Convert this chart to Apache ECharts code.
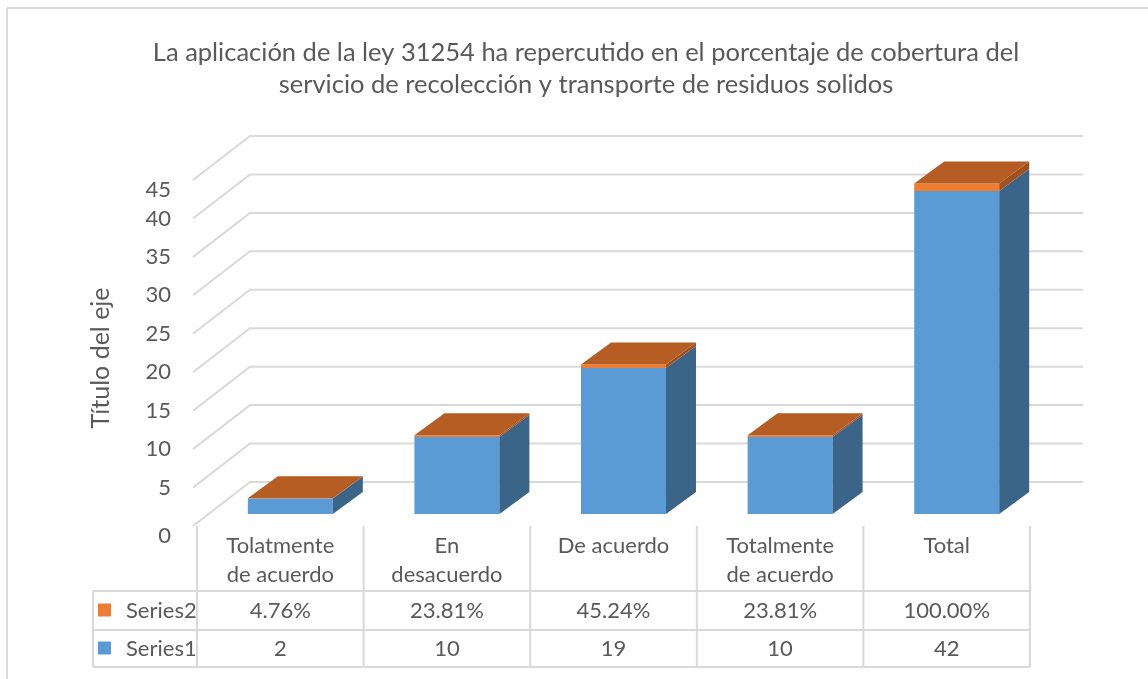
<!DOCTYPE html>
<html>
<head>
<meta charset="utf-8">
<script src="https://cdn.jsdelivr.net/npm/echarts@6/dist/echarts.min.js"></script>
<style>
  html, body { margin: 0; padding: 0; background: #fff; }
  #chart { width: 1148px; height: 679px; }
</style>
</head>
<body>
<div id="chart"></div>
<script>
const categories = ['Tolatmente\nde acuerdo', 'En\ndesacuerdo', 'De acuerdo', 'Totalmente\nde acuerdo', 'Total']
const series1 = [2, 10, 19, 10, 42]
const series2 = [0.0476, 0.2381, 0.4524, 0.2381, 1.0]
const yTicks = [0, 5, 10, 15, 20, 25, 30, 35, 40, 45]
const seriesNames = ['Series2', 'Series1']

const FONT = 'Lato, "Liberation Sans", sans-serif'
const TEXT = '#595959'
const GRID_LINE = '#D9D9D9'

// 3D look, all in px
const WALL_DX = 57, WALL_DY = -44
const BAR_DX = 10, BAR_DY = -12
const DEPTH_DX = 30, DEPTH_DY = -22

const chart = echarts.init(document.getElementById('chart'))

function wallItem(params, api) {
  const cs = params.coordSys
  const y = api.coord([0, api.value(1)])[1]
  return {
    type: 'polyline',
    shape: {
      points: [
        [cs.x - 4, y],
        [cs.x + WALL_DX - 4, y + WALL_DY],
        [cs.x + cs.width + WALL_DX - 4, y + WALL_DY]
      ]
    },
    style: { stroke: GRID_LINE, lineWidth: 2, fill: null }
  }
}

function barItem(params, api) {
  const i = api.value(0)
  const v1 = api.value(1)
  const v2 = api.value(2)
  const base = api.coord([i, 0])
  const w = api.size([1, 0])[0] * 0.51
  const x0 = base[0] + BAR_DX - w / 2
  const x1 = x0 + w
  const y0 = base[1] + BAR_DY
  const y1 = api.coord([i, v1])[1] + BAR_DY
  const y2 = api.coord([i, v1 + v2])[1] + BAR_DY
  const side = (ya, yb, color) => ({
    type: 'polygon',
    shape: { points: [[x1, ya], [x1 + DEPTH_DX, ya + DEPTH_DY], [x1 + DEPTH_DX, yb + DEPTH_DY], [x1, yb]] },
    style: { fill: color }
  })
  return {
    type: 'group',
    children: [
      { type: 'rect', shape: { x: x0, y: y1, width: w, height: y0 - y1 }, style: { fill: '#5B9BD5' } },
      side(y0, y1, '#3B6489'),
      { type: 'rect', shape: { x: x0, y: y2, width: w, height: y1 - y2 }, style: { fill: '#ED7D31' } },
      side(y1, y2, '#A0521E'),
      {
        type: 'polygon',
        shape: { points: [[x0, y2], [x1, y2], [x1 + DEPTH_DX, y2 + DEPTH_DY], [x0 + DEPTH_DX, y2 + DEPTH_DY]] },
        style: { fill: '#B55D22' }
      }
    ]
  }
}

// data table under the plot
function tableItem(params, api) {
  const cs = params.coordSys
  const i = api.value(0)
  const cx = api.coord([i, 0])[0]
  const half = api.size([1, 0])[0] / 2
  const top = cs.y + cs.height
  const r1 = top + 65, r2 = r1 + 39, r3 = r2 + 37
  const line = (xa, ya, xb, yb) => ({
    type: 'line',
    shape: { x1: xa, y1: ya, x2: xb, y2: yb },
    style: { stroke: GRID_LINE, lineWidth: 2 }
  })
  const text = (str, x, y, align, vAlign) => ({
    type: 'text',
    style: {
      text: str, x: x, y: y, align: align || 'center', verticalAlign: vAlign || 'middle',
      fill: TEXT, font: '22px ' + FONT, lineHeight: 29
    }
  })
  const children = [
    line(cx + half, top, cx + half, r3),
    line(cx - half, r1, cx + half, r1),
    line(cx - half, r2, cx + half, r2),
    line(cx - half, r3, cx + half, r3),
    text(categories[i], cx, top + 5, 'center', 'top'),
    text((series2[i] * 100).toFixed(2) + '%', cx, (r1 + r2) / 2),
    text(String(series1[i]), cx, (r2 + r3) / 2)
  ]
  if (i === 0) {
    const lx = cs.x - 104
    children.push(
      line(cs.x, top, cs.x, r3),
      line(lx, r1, lx, r3),
      line(lx, r1, cs.x, r1),
      line(lx, r2, cs.x, r2),
      line(lx, r3, cs.x, r3),
      { type: 'rect', shape: { x: lx + 5, y: (r1 + r2) / 2 - 7, width: 13, height: 13 }, style: { fill: '#ED7D31' } },
      { type: 'rect', shape: { x: lx + 5, y: (r2 + r3) / 2 - 7, width: 13, height: 13 }, style: { fill: '#5B9BD5' } },
      text(seriesNames[0], lx + 33, (r1 + r2) / 2, 'left'),
      text(seriesNames[1], lx + 33, (r2 + r3) / 2, 'left')
    )
  }
  return { type: 'group', children: children }
}

const option = {
  backgroundColor: '#fff',
  animation: false,
  title: {
    text: 'La aplicación de la ley 31254 ha repercutido en el porcentaje de cobertura del\nservicio de recolección y transporte de residuos solidos',
    left: 581,
    top: 32,
    textAlign: 'center',
    textStyle: { color: TEXT, fontFamily: FONT, fontSize: 25.5, fontWeight: 'normal', lineHeight: 32 }
  },
  graphic: [
    { type: 'line', shape: { x1: 7, y1: 8, x2: 1148, y2: 8 }, style: { stroke: GRID_LINE, lineWidth: 2 } },
    { type: 'line', shape: { x1: 7, y1: 8, x2: 7, y2: 679 }, style: { stroke: GRID_LINE, lineWidth: 2 } }
  ],
  grid: { left: 197, right: 118, top: 180, bottom: 153 },
  xAxis: {
    type: 'category',
    data: categories,
    axisLine: { show: false },
    axisTick: { show: false },
    axisLabel: { show: false }
  },
  yAxis: {
    type: 'value',
    min: 0,
    max: 45,
    interval: 5,
    name: 'Título del eje',
    nameLocation: 'middle',
    nameGap: 84,
    nameTextStyle: { color: TEXT, fontFamily: FONT, fontSize: 25, padding: [0, 0, 0, -10] },
    axisLine: { show: false },
    axisTick: { show: false },
    splitLine: { show: false },
    axisLabel: {
      color: TEXT,
      fontFamily: FONT,
      fontSize: 22,
      margin: 26,
      // Excel drops the first and last labels a little below their lines
      formatter: v => (v === 0 || v === 45) ? '{low|' + v + '}' : String(v),
      rich: { low: { color: TEXT, fontFamily: FONT, fontSize: 22, padding: [20, 0, 0, 0] } }
    }
  },
  series: [
    {
      name: 'walls',
      type: 'custom',
      renderItem: wallItem,
      data: yTicks.map(v => [0, v]),
      clip: false,
      z: 1,
      silent: true
    },
    {
      name: 'bars',
      type: 'custom',
      renderItem: barItem,
      data: categories.map((c, i) => [i, series1[i], series2[i]]),
      clip: false,
      z: 2
    },
    {
      name: 'table',
      type: 'custom',
      renderItem: tableItem,
      data: categories.map((c, i) => [i]),
      clip: false,
      z: 3,
      silent: true
    }
  ]
}

chart.setOption(option)
window.addEventListener('resize', () => chart.resize())
</script>
</body>
</html>
